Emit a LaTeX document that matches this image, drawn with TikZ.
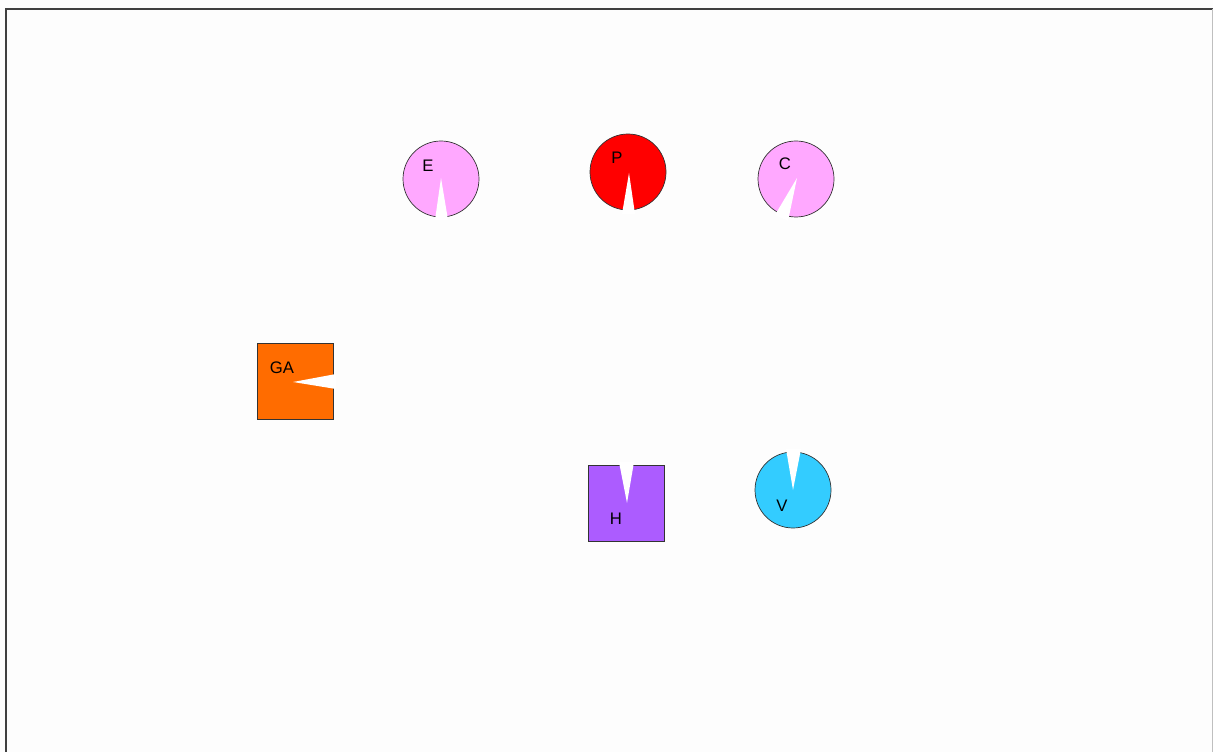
\documentclass[tikz,border=0pt]{standalone}
\usepackage{fontspec}
\setmainfont{Liberation Sans}
\usetikzlibrary{positioning}

\definecolor{pinkfill}{RGB}{255,168,255}
\definecolor{redfill}{RGB}{255,0,0}
\definecolor{orangefill}{RGB}{255,108,0}
\definecolor{purplefill}{RGB}{172,92,255}
\definecolor{cyanfill}{RGB}{51,204,255}
\definecolor{paper}{RGB}{253,253,253}

\begin{document}
\begin{tikzpicture}[
  x=0.2mm, y=-0.2mm,
  every node/.style={font=\fontsize{9.5}{11}\selectfont},
  disc/.style={circle, draw=black!80, minimum size=15.2mm, inner sep=0pt},
  block/.style={rectangle, draw=black!80, minimum size=15.2mm, inner sep=0pt},
  notch/.style={fill=white, draw=none}
]

% page and frame
\fill[paper] (0,0) rectangle (1213,752);
\useasboundingbox (0,0) rectangle (1213,752);
\draw[line width=0.4mm, black!75] (6,752) -- (6,9) -- (1213,9);
\draw[gray!50] (1212,9) -- (1212,752);

% top row
\node[disc, fill=pinkfill] (e) at (441,179) {};
\fill[notch] (441,178) -- (435,220) -- (448,220) -- cycle;
\node (elabel) at (428,166) {E};

\node[disc, fill=redfill] (p) at (628,172) {};
\fill[notch] (629,173) -- (622,214) -- (635,214) -- cycle;
\node (plabel) at (617,158) {P};

\node[disc, fill=pinkfill] (c) at (796,179) {};
\fill[notch] (797,178) -- (775,215) -- (788,221) -- cycle;
\node (clabel) at (785,164) {C};

% left
\node[block, fill=orangefill] (ga) at (295,381) {};
\fill[notch] (293,382) -- (336,374) -- (336,389) -- cycle;
\node (galabel) at (282,368) {GA};

% bottom row
\node[block, fill=purplefill] (h) at (626,503) {};
\fill[notch] (627,503) -- (619,462) -- (634,462) -- cycle;
\node (hlabel) at (616,519) {H};

\node[disc, fill=cyanfill] (v) at (793,490) {};
\fill[notch] (793,490) -- (786,449) -- (801,449) -- cycle;
\node (vlabel) at (782,506) {V};

\end{tikzpicture}
\end{document}
